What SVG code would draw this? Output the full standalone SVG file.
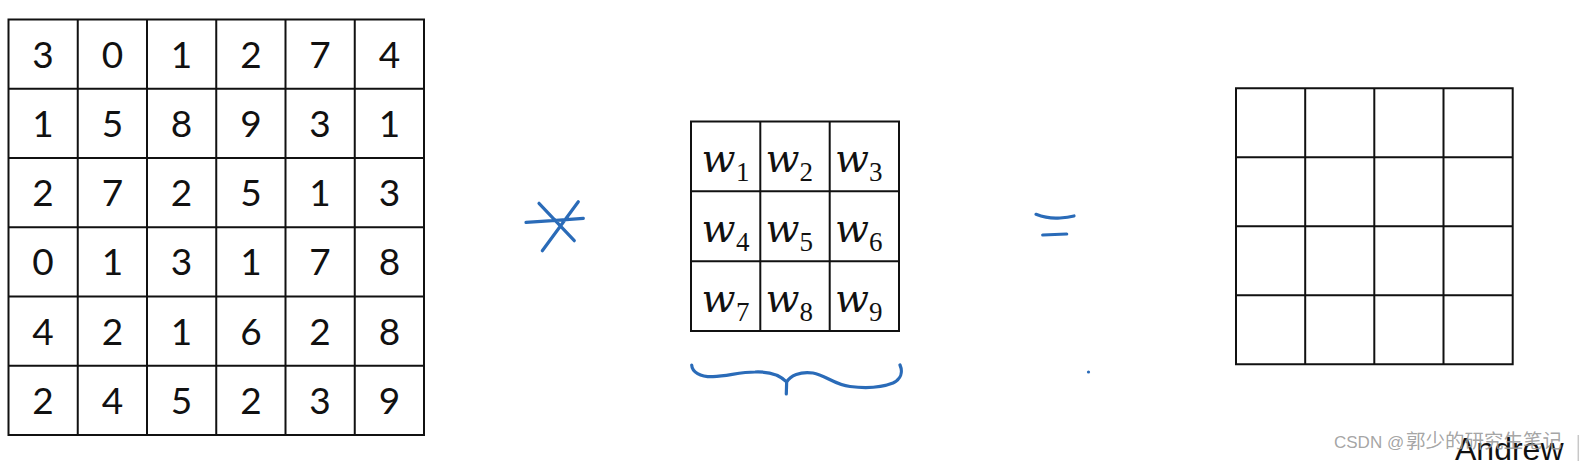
<svg xmlns="http://www.w3.org/2000/svg" width="1580" height="461" viewBox="0 0 1580 461">
<style>
.grid{fill:none;stroke:#111;stroke-width:2}
.num{font-family:Lato,"Open Sans","Liberation Sans",sans-serif;font-size:37px;fill:#111;text-anchor:middle}
.w{font-family:"DejaVu Serif",serif;font-style:italic;font-size:40px;fill:#111}
.sub{font-family:"Liberation Serif",serif;font-size:27px;fill:#111}
.ink{fill:none;stroke:#2a6bb8;stroke-width:3.2;stroke-linecap:round;stroke-linejoin:round}
</style>
<rect width="1580" height="461" fill="#fff"/>
<g id="input-matrix">
<path class="grid" d="M8.5,19.5H424V435H8.5Z M77.75,19.5V435 M147,19.5V435 M216.25,19.5V435 M285.5,19.5V435 M354.75,19.5V435 M8.5,88.75H424 M8.5,158H424 M8.5,227.25H424 M8.5,296.5H424 M8.5,365.75H424"/>
<text class="num" y="67.6"><tspan x="43.1">3</tspan><tspan x="112.4">0</tspan><tspan x="181.6">1</tspan><tspan x="250.9">2</tspan><tspan x="320.1">7</tspan><tspan x="389.4">4</tspan></text>
<text class="num" y="136.9"><tspan x="43.1">1</tspan><tspan x="112.4">5</tspan><tspan x="181.6">8</tspan><tspan x="250.9">9</tspan><tspan x="320.1">3</tspan><tspan x="389.4">1</tspan></text>
<text class="num" y="206.1"><tspan x="43.1">2</tspan><tspan x="112.4">7</tspan><tspan x="181.6">2</tspan><tspan x="250.9">5</tspan><tspan x="320.1">1</tspan><tspan x="389.4">3</tspan></text>
<text class="num" y="275.4"><tspan x="43.1">0</tspan><tspan x="112.4">1</tspan><tspan x="181.6">3</tspan><tspan x="250.9">1</tspan><tspan x="320.1">7</tspan><tspan x="389.4">8</tspan></text>
<text class="num" y="344.6"><tspan x="43.1">4</tspan><tspan x="112.4">2</tspan><tspan x="181.6">1</tspan><tspan x="250.9">6</tspan><tspan x="320.1">2</tspan><tspan x="389.4">8</tspan></text>
<text class="num" y="413.9"><tspan x="43.1">2</tspan><tspan x="112.4">4</tspan><tspan x="181.6">5</tspan><tspan x="250.9">2</tspan><tspan x="320.1">3</tspan><tspan x="389.4">9</tspan></text>
</g>
<g id="convolution-operator">
<path class="ink" d="M526,222.3 Q555,220.5 583.3,218.3 M539,203.3 L574.3,240.7 M578.3,201.7 L542.3,250.7"/>
</g>
<g id="kernel">
<path class="grid" d="M691,121.5H899V331H691Z M760.3,121.5V331 M829.7,121.5V331 M691,191.3H899 M691,261.2H899"/>
<text class="w" x="701.5" y="171.5" textLength="34" lengthAdjust="spacingAndGlyphs">w</text><text class="sub" x="736" y="181">1</text>
<text class="w" x="765.5" y="171.5" textLength="34" lengthAdjust="spacingAndGlyphs">w</text><text class="sub" x="799.5" y="181">2</text>
<text class="w" x="835" y="171.5" textLength="34" lengthAdjust="spacingAndGlyphs">w</text><text class="sub" x="869" y="181">3</text>
<text class="w" x="701.5" y="241.5" textLength="34" lengthAdjust="spacingAndGlyphs">w</text><text class="sub" x="736" y="251">4</text>
<text class="w" x="765.5" y="241.5" textLength="34" lengthAdjust="spacingAndGlyphs">w</text><text class="sub" x="799.5" y="251">5</text>
<text class="w" x="835" y="241.5" textLength="34" lengthAdjust="spacingAndGlyphs">w</text><text class="sub" x="869" y="251">6</text>
<text class="w" x="701.5" y="311.5" textLength="34" lengthAdjust="spacingAndGlyphs">w</text><text class="sub" x="736" y="321">7</text>
<text class="w" x="765.5" y="311.5" textLength="34" lengthAdjust="spacingAndGlyphs">w</text><text class="sub" x="799.5" y="321">8</text>
<text class="w" x="835" y="311.5" textLength="34" lengthAdjust="spacingAndGlyphs">w</text><text class="sub" x="869" y="321">9</text>
</g>
<g id="kernel-brace">
<path class="ink" d="M691.7,365 C692,372 700,377 713,376.7 C728,376 740,372 755,372 C768,371.5 780,375 786.7,382 M786.7,382 C790,376 800,371 813,373 C825,375 835,385 850,386.5 C862,388 880,388 893,383 C901,379 903,372 900,365 M786.7,381 L786.3,394"/>
</g>
<g id="equals-operator">
<path class="ink" d="M1036,214.3 Q1048,219 1060,218 Q1068,217.5 1074,216 M1042.7,235 L1066.7,234"/>
<circle cx="1088.5" cy="372" r="1.6" fill="#2a6bb8"/>
</g>
<g id="output-matrix">
<path class="grid" d="M1236,88.3H1512.7V364.3H1236Z M1305.2,88.3V364.3 M1374.3,88.3V364.3 M1443.5,88.3V364.3 M1236,157.3H1512.7 M1236,226.3H1512.7 M1236,295.3H1512.7"/>
</g>
<g id="connectors"></g>
<g id="footer">
<text x="1455" y="460" font-family="'Liberation Sans',Arial,sans-serif" font-size="32" fill="#111">Andrew</text>
<text y="448" fill="#9a9a9a" fill-opacity="0.9"><tspan x="1334" font-family="'Liberation Sans',Arial,sans-serif" font-size="17">CSDN @</tspan><tspan x="1406" font-family="'Noto Sans CJK SC',sans-serif" font-size="19.5">郭少的研究生笔记</tspan></text>
<line x1="1578.3" y1="435" x2="1578.3" y2="461" stroke="#c8c8c8" stroke-width="1.5"/>
</g>
</svg>
